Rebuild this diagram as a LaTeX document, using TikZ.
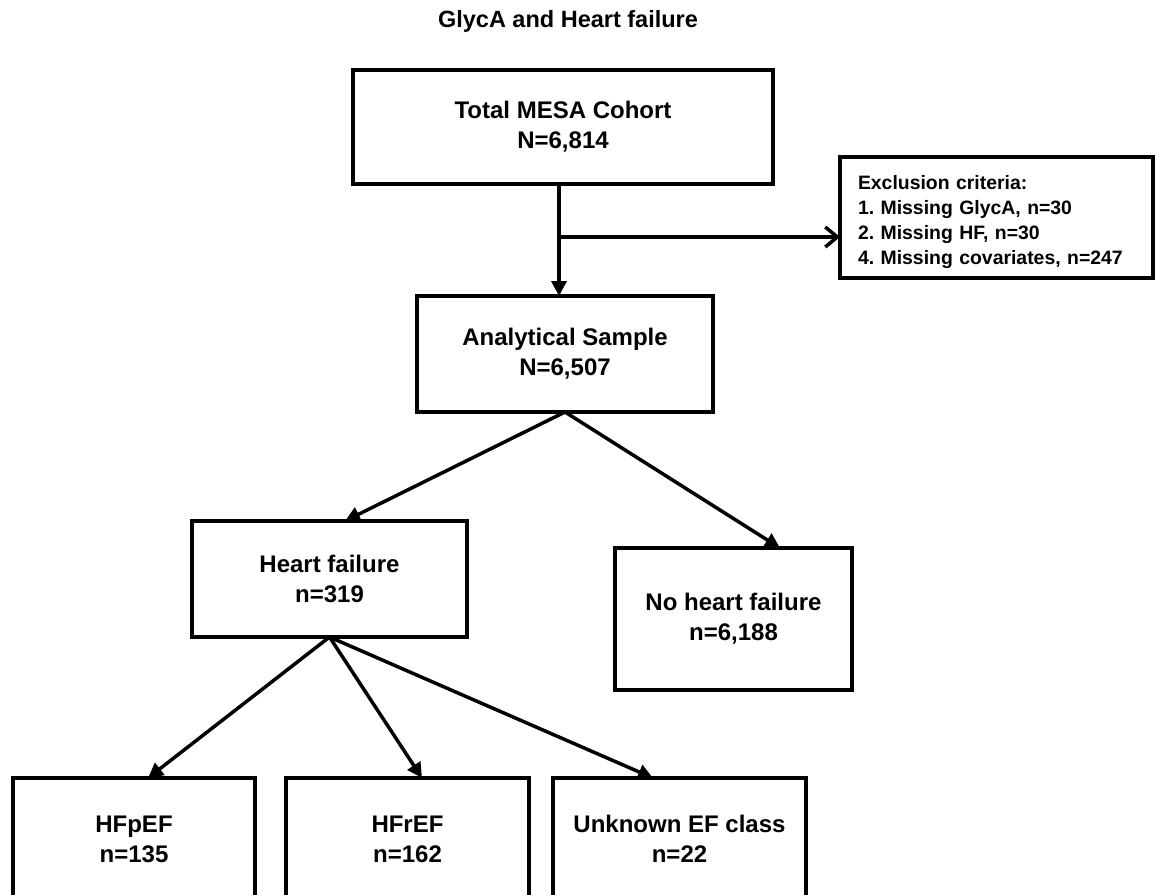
\documentclass[tikz,border=0pt]{standalone}
\usepackage{fontspec}
\setmainfont{Liberation Sans}
\usetikzlibrary{arrows.meta,calc}
\begin{document}
\frenchspacing
\begin{tikzpicture}[x=1pt,y=-1pt,
  box/.style={draw=black,line width=3.5pt,fill=white,rectangle,outer sep=0pt,inner sep=0pt,align=center,
    font=\bfseries\fontsize{24}{30}\selectfont},
  arr/.style={line width=3.5pt,-{Triangle[length=15pt,width=15pt]}},
  barb/.style={line width=3.5pt,-{Straight Barb[length=12pt,width=20pt,line width=3.5pt]}}]
\useasboundingbox (0,0) rectangle (1155,894);
\fill[white] (0,0) rectangle (1155,894);
\node[font=\bfseries\fontsize{23.5}{28}\selectfont] (title) at (568,21) {GlycA and Heart failure};
\node[box,minimum width=420pt,minimum height=114pt] (total) at (563,127) {Total MESA Cohort\\N=6,814};
\node[box,minimum width=313pt,minimum height=121pt,text width=277pt,inner xsep=18pt,align=left,
  font=\bfseries\fontsize{19.4}{25}\selectfont] (excl) at (996.5,217.5)
  {\rule{0pt}{24pt}Exclusion criteria:\\1. Missing GlycA, n=30\\2. Missing HF, n=30\\4. Missing covariates, n=247};
\node[box,minimum width=296pt,minimum height=116pt] (anal) at (565,354) {Analytical Sample\\N=6,507};
\node[box,minimum width=275pt,minimum height=116pt] (hf) at (329.5,579) {Heart failure\\n=319};
\node[box,minimum width=237pt,minimum height=142pt] (nohf) at (733.5,619) {No heart failure\\n=6,188};
\node[box,minimum width=242pt,minimum height=122pt] (pef) at (134,839) {HFpEF\\n=135};
\node[box,minimum width=243pt,minimum height=122pt] (ref) at (407.5,839) {HFrEF\\n=162};
\node[box,minimum width=253pt,minimum height=122pt] (unk) at (679.5,839) {Unknown EF class\\n=22};
\coordinate (j) at (559,237);
\draw[line width=3.5pt] (total.south -| j) -- (j);
\draw[arr] (j) -- (anal.north -| j);
\draw[barb] (j) -- (excl.west |- j);
\draw[arr] (anal.south) -- ([xshift=15.5pt]hf.north);
\draw[arr] (anal.south) -- ([xshift=46.5pt]nohf.north);
\draw[arr] (hf.south) -- ([xshift=14pt]pef.north);
\draw[arr] (hf.south) -- ([xshift=14.5pt]ref.north);
\draw[arr] (hf.south) -- ([xshift=-26.5pt]unk.north);
\end{tikzpicture}
\end{document}
